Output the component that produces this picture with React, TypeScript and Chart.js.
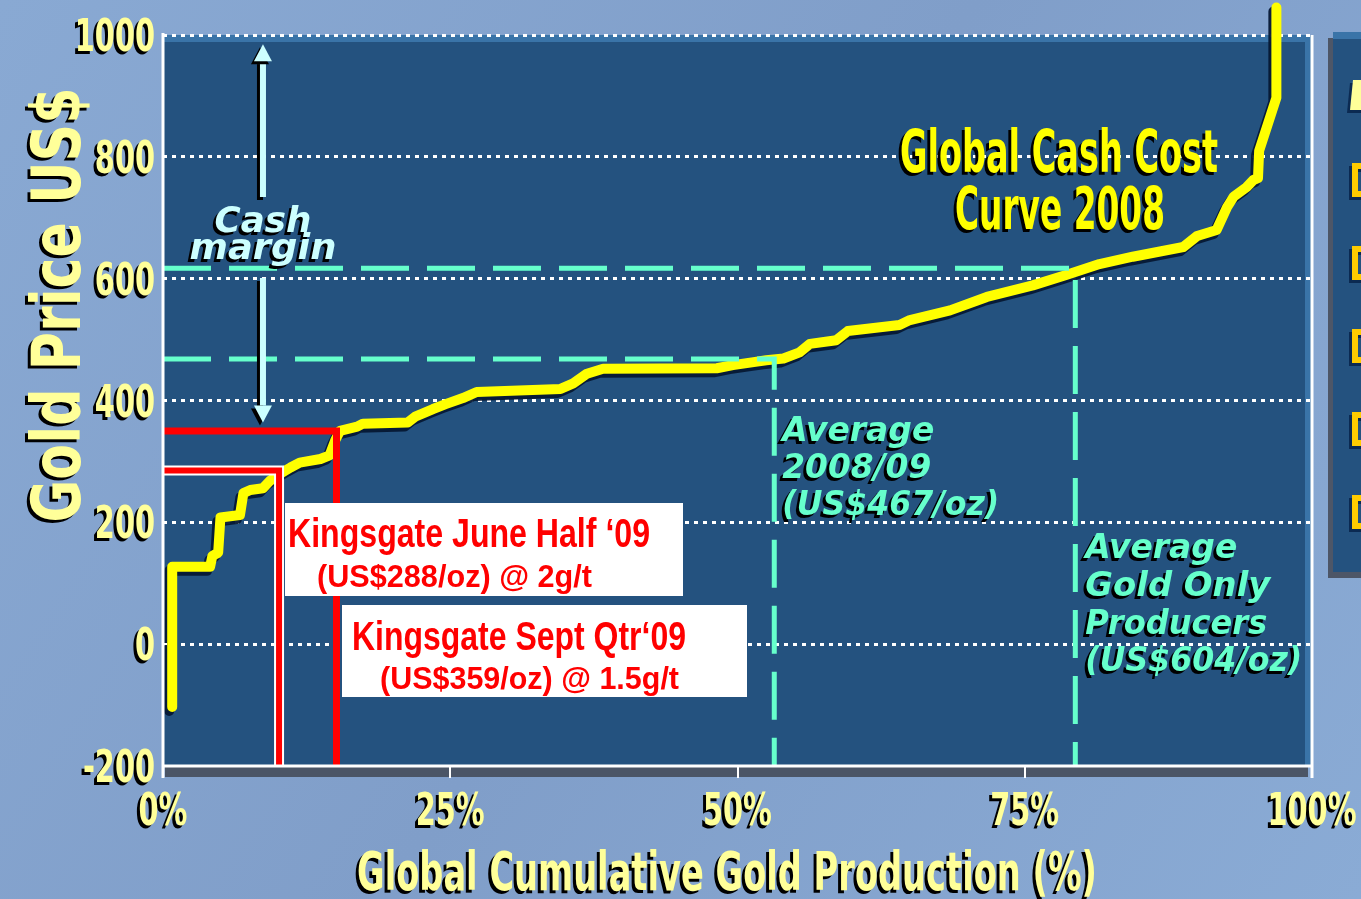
import React, { useEffect, useRef } from 'react';
import { Chart, registerables } from 'chart.js';

Chart.register(...registerables);

// ---- data ----
const curveProduction = [0.8, 0.8, 4.1, 4.3, 4.8, 5.0, 6.7, 7.0, 7.6, 8.7, 9.3, 10.2, 11.1, 11.9, 13.7, 14.5, 15.0, 15.4, 16.9, 17.4, 21.3, 22.0, 23.5, 24.6, 26.1, 27.3, 34.6, 35.7, 36.9, 38.3, 48.2, 49.6, 51.4, 52.5, 54.0, 55.4, 56.3, 58.6, 59.6, 64.1, 65.0, 68.5, 71.7, 75.7, 78.6, 81.5, 84.4, 88.8, 90.0, 91.7, 92.6, 93.2, 94.3, 94.9, 95.3, 95.4, 96.9, 96.9];
const curveCost = [-103, 127, 127, 145, 150, 208, 212, 248, 253, 256, 268, 280, 290, 298, 304, 310, 335, 350, 357, 362, 364, 374, 386, 394, 404, 414, 419, 428, 444, 452, 453, 458, 463, 466, 469, 479, 493, 499, 514, 524, 532, 548, 570, 589, 606, 624, 636, 652, 670, 680, 717, 735, 750, 762, 765, 810, 897, 1045];

const kingsgateJune = { production: 10.1, cost: 285 };
const kingsgateSept = { production: 15.1, cost: 350 };
const averageAll = { production: 53.2, cost: 468 };
const averageGoldOnly = { production: 79.4, cost: 617 };
const cashMarginArrow = { production: 8.7, top: 985, bottom: 364 };

const xTickValues = [0, 25, 50, 75, 100];
const xTickLabels = ['0%', '25%', '50%', '75%', '100%'];
const yTickValues = [-200, 0, 200, 400, 600, 800, 1000];
const yTickLabels = ['-200', '0', '200', '400', '600', '800', '1000'];

const X_MIN = 0, X_MAX = 100, Y_MIN = -200, Y_MAX = 1000;

// ---- helpers ----
type TextOpts = {
  font: string;
  color: string;
  align?: 'left' | 'center' | 'right';
  width?: number;
  scaleX?: number;
  shadow?: boolean;
  shadowColor?: string;
  rotate?: number;
};

function drawText(ctx: CanvasRenderingContext2D, text: string, x: number, y: number, o: TextOpts) {
  ctx.save();
  ctx.font = o.font;
  ctx.textAlign = 'left';
  ctx.textBaseline = 'alphabetic';
  const w = ctx.measureText(text).width;
  const sx = o.width ? o.width / w : (o.scaleX ?? 1);
  const dw = w * sx;
  const align = o.align ?? 'left';
  const offset = align === 'center' ? -dw / 2 : align === 'right' ? -dw : 0;
  ctx.translate(x, y);
  if (o.rotate) ctx.rotate(o.rotate);
  ctx.translate(offset, 0);
  ctx.scale(sx, 1);
  if (o.shadow !== false) {
    ctx.shadowColor = o.shadowColor ?? '#000000';
    ctx.shadowOffsetX = -3;
    ctx.shadowOffsetY = 3;
    ctx.shadowBlur = 0;
  }
  ctx.fillStyle = o.color;
  ctx.fillText(text, 0, 0);
  ctx.restore();
}

function drawArrow(ctx: CanvasRenderingContext2D, x: number, from: number, tip: number) {
  const dir = tip < from ? -1 : 1;
  const head = 17;
  ctx.save();
  ctx.shadowColor = '#000000';
  ctx.shadowOffsetX = -3;
  ctx.shadowOffsetY = 3;
  ctx.fillStyle = '#ccffff';
  const shaftEnd = tip - dir * head;
  ctx.fillRect(x - 3, Math.min(from, shaftEnd), 6, Math.abs(shaftEnd - from));
  ctx.beginPath();
  ctx.moveTo(x, tip);
  ctx.lineTo(x - 9, shaftEnd);
  ctx.lineTo(x + 9, shaftEnd);
  ctx.closePath();
  ctx.fill();
  ctx.restore();
}

const TICK_FONT = 'bold 44px "DejaVu Sans"';
const TICK_COLOR = '#ffff99';

function isShadowed(chart: any, index: number) {
  const ds = chart.data.datasets[index];
  return !!(ds && ds.shadowed);
}

const decorPlugin = {
  id: 'decor',
  beforeDraw(chart: any) {
    const { ctx, chartArea: a, width, height } = chart;
    ctx.save();
    const g = ctx.createLinearGradient(0, 0, width, height);
    g.addColorStop(0, '#89a9d3');
    g.addColorStop(0.5, '#809ec9');
    g.addColorStop(1, '#8aabd5');
    ctx.fillStyle = g;
    ctx.fillRect(0, 0, width, height);

    // plot panel
    ctx.fillStyle = '#24527f';
    ctx.fillRect(a.left, a.top, a.right - a.left, a.bottom - a.top);
    ctx.fillStyle = '#3a74a8';
    ctx.fillRect(a.left, a.top, a.right - a.left, 7);
    ctx.fillRect(a.right - 7, a.top, 6, a.bottom - a.top);
    ctx.fillStyle = '#4b5566';
    ctx.fillRect(a.left + 2, a.bottom + 1, a.right - a.left - 6, 10);

    // cut-off bullet panel at the right
    ctx.fillStyle = '#24527f';
    ctx.fillRect(1328, 38, 40, 538);
    ctx.fillStyle = '#3a74a8';
    ctx.fillRect(1333, 32, 35, 7);
    ctx.fillStyle = '#4d5667';
    ctx.fillRect(1328, 38, 5, 540);
    ctx.fillRect(1328, 572, 40, 6);

    ctx.shadowColor = '#0b2a52';
    ctx.shadowOffsetX = -3;
    ctx.shadowOffsetY = 3;
    ctx.fillStyle = '#ffff99';
    ctx.beginPath();
    ctx.moveTo(1353, 80);
    ctx.lineTo(1364, 80);
    ctx.lineTo(1364, 110);
    ctx.lineTo(1350, 110);
    ctx.closePath();
    ctx.fill();
    ctx.strokeStyle = '#ffcc00';
    ctx.lineWidth = 6;
    [163, 246, 329, 412, 495].forEach((t) => {
      ctx.strokeRect(1355, t + 3, 30, 28);
    });
    ctx.restore();
  },
  beforeDatasetDraw(chart: any, args: any) {
    if (isShadowed(chart, args.index)) {
      const ctx = chart.ctx;
      ctx.save();
      ctx.shadowColor = 'rgba(6,24,52,0.95)';
      ctx.shadowOffsetX = -3;
      ctx.shadowOffsetY = 4;
      ctx.shadowBlur = 0;
    }
  },
  afterDatasetDraw(chart: any, args: any) {
    if (isShadowed(chart, args.index)) {
      chart.ctx.restore();
    }
  },
  afterDatasetsDraw(chart: any) {
    const { ctx, chartArea: a } = chart;
    const xs = chart.scales.x;
    const ys = chart.scales.y;
    ctx.save();

    // axes
    ctx.strokeStyle = '#ffffff';
    ctx.lineWidth = 3;
    ctx.beginPath();
    ctx.moveTo(a.left, a.top - 2);
    ctx.lineTo(a.left, a.bottom + 12);
    ctx.moveTo(a.left, a.bottom);
    ctx.lineTo(a.right, a.bottom);
    ctx.moveTo(a.right, a.top);
    ctx.lineTo(a.right, a.bottom + 12);
    ctx.stroke();
    ctx.lineWidth = 2;
    ctx.beginPath();
    xTickValues.forEach((v) => {
      const px = Math.round(xs.getPixelForValue(v));
      ctx.moveTo(px, a.bottom);
      ctx.lineTo(px, a.bottom + 12);
    });
    yTickValues.forEach((v) => {
      const py = Math.round(ys.getPixelForValue(v));
      ctx.moveTo(a.left, py);
      ctx.lineTo(a.left + 4, py);
    });
    ctx.stroke();

    // white label boxes
    ctx.fillStyle = '#ffffff';
    ctx.fillRect(285, 503, 398, 93);
    ctx.fillRect(342, 605, 405, 92);
    ctx.restore();

    // tick labels
    yTickValues.forEach((v, i) => {
      drawText(ctx, yTickLabels[i], a.left - 8, ys.getPixelForValue(v) + 16, { font: TICK_FONT, color: TICK_COLOR, align: 'right', scaleX: 0.655 });
    });
    xTickValues.forEach((v, i) => {
      drawText(ctx, xTickLabels[i], xs.getPixelForValue(v), a.bottom + 59, { font: TICK_FONT, color: TICK_COLOR, align: 'center', scaleX: 0.655 });
    });

    // axis titles
    drawText(ctx, 'Gold Price US$', 80, 305, { font: 'bold 68px "DejaVu Sans"', color: TICK_COLOR, align: 'center', width: 435, rotate: -Math.PI / 2 });
    drawText(ctx, 'Global Cumulative Gold Production (%)', 727, 890, { font: 'bold 53px "DejaVu Sans"', color: TICK_COLOR, align: 'center', width: 740 });

    // chart title
    drawText(ctx, 'Global Cash Cost', 1059, 172, { font: 'bold 58px "DejaVu Sans"', color: '#ffff00', align: 'center', width: 318 });
    drawText(ctx, 'Curve 2008', 1060, 229, { font: 'bold 58px "DejaVu Sans"', color: '#ffff00', align: 'center', width: 210 });

    // cash margin arrow
    const ax = xs.getPixelForValue(cashMarginArrow.production);
    drawArrow(ctx, ax, 197, ys.getPixelForValue(cashMarginArrow.top));
    drawArrow(ctx, ax, 278, ys.getPixelForValue(cashMarginArrow.bottom));
    const cmFont = 'italic bold 36px "DejaVu Sans"';
    drawText(ctx, 'Cash', ax, 232, { font: cmFont, color: '#ccffff', align: 'center', width: 97 });
    drawText(ctx, 'margin', ax, 259, { font: cmFont, color: '#ccffff', align: 'center', width: 147 });

    // average annotations
    const avFont = 'italic bold 33px "DejaVu Sans"';
    const avColor = '#66ffcc';
    const a1 = xs.getPixelForValue(averageAll.production) + 8;
    drawText(ctx, 'Average', a1, 441, { font: avFont, color: avColor, width: 152 });
    drawText(ctx, '2008/09', a1, 478, { font: avFont, color: avColor, width: 149 });
    drawText(ctx, '(US$467/oz)', a1, 515, { font: avFont, color: avColor, width: 217 });
    const a2 = xs.getPixelForValue(averageGoldOnly.production) + 10;
    drawText(ctx, 'Average', a2, 558, { font: avFont, color: avColor, width: 152 });
    drawText(ctx, 'Gold Only', a2, 596, { font: avFont, color: avColor, width: 185 });
    drawText(ctx, 'Producers', a2, 634, { font: avFont, color: avColor, width: 182 });
    drawText(ctx, '(US$604/oz)', a2, 671, { font: avFont, color: avColor, width: 217 });

    // Kingsgate labels
    const kFont1 = 'bold 40px "Liberation Sans"';
    const kFont2 = 'bold 32px "Liberation Sans"';
    drawText(ctx, 'Kingsgate June Half \u201809', 288, 547, { font: kFont1, color: '#ff0000', width: 362, shadow: false });
    drawText(ctx, '(US$288/oz) @ 2g/t', 317, 587, { font: kFont2, color: '#ff0000', width: 275, shadow: false });
    drawText(ctx, 'Kingsgate Sept Qtr\u201809', 352, 650, { font: kFont1, color: '#ff0000', width: 334, shadow: false });
    drawText(ctx, '(US$359/oz) @ 1.5g/t', 380, 689, { font: kFont2, color: '#ff0000', width: 299, shadow: false });
  },
};

function lPath(p: { production: number; cost: number }) {
  return [
    { x: X_MIN, y: p.cost },
    { x: p.production, y: p.cost },
    { x: p.production, y: Y_MIN },
  ];
}

export default function App() {
  const ref = useRef<HTMLCanvasElement>(null);

  useEffect(() => {
    document.body.style.margin = '0';
    const curve = curveProduction.map((x, i) => ({ x, y: curveCost[i] }));
    const chart = new Chart(ref.current as HTMLCanvasElement, {
      type: 'line',
      data: {
        datasets: [
          { label: 'Kingsgate Sept Qtr', data: lPath(kingsgateSept), borderColor: '#ff0000', borderWidth: 7, pointRadius: 0, borderJoinStyle: 'miter' } as any,
          { label: 'Kingsgate June Half', data: lPath(kingsgateJune), borderColor: '#ff0000', borderWidth: 6, pointRadius: 0, borderJoinStyle: 'miter' } as any,
          { label: 'Kingsgate June Half outline', data: lPath(kingsgateJune), borderColor: '#ffffff', borderWidth: 10, pointRadius: 0, borderJoinStyle: 'miter' } as any,
          { label: 'Average gold only', data: lPath(averageGoldOnly), borderColor: '#66ffcc', borderWidth: 5, borderDash: [48, 18], pointRadius: 0, borderJoinStyle: 'miter' } as any,
          { label: 'Average 2008/09', data: lPath(averageAll), borderColor: '#66ffcc', borderWidth: 5, borderDash: [48, 18], pointRadius: 0, borderJoinStyle: 'miter' } as any,
          { label: 'Global Cash Cost Curve 2008', data: curve, borderColor: '#ffff00', borderWidth: 10, pointRadius: 0, borderJoinStyle: 'round', borderCapStyle: 'round', clip: false, shadowed: true } as any,
        ],
      },
      options: {
        animation: false,
        responsive: false,
        devicePixelRatio: 1,
        parsing: false as any,
        layout: { padding: { left: 163, right: 49, top: 35, bottom: 133 } },
        plugins: { legend: { display: false }, tooltip: { enabled: false }, title: { display: false } },
        events: [],
        scales: {
          x: {
            type: 'linear', min: X_MIN, max: X_MAX,
            ticks: { display: false, stepSize: 25 },
            grid: { display: false, drawTicks: false },
            border: { display: false },
            afterFit: (s: any) => { s.height = 0; },
          },
          y: {
            type: 'linear', min: Y_MIN, max: Y_MAX,
            ticks: { display: false, stepSize: 200 },
            grid: {
              drawTicks: false,
              lineWidth: 3,
              color: (c: any) => (c.tick && c.tick.value === Y_MIN ? 'rgba(0,0,0,0)' : '#ffffff'),
            },
            border: { display: false, dash: [4, 5] },
            afterFit: (s: any) => { s.width = 0; },
          },
        },
      } as any,
      plugins: [decorPlugin],
    });
    return () => chart.destroy();
  }, []);

  return (
    <div style={{ position: 'fixed', left: 0, top: 0, width: 1361, height: 899 }}>
      <canvas ref={ref} width={1361} height={899} style={{ display: 'block', width: 1361, height: 899 }} />
    </div>
  );
}
